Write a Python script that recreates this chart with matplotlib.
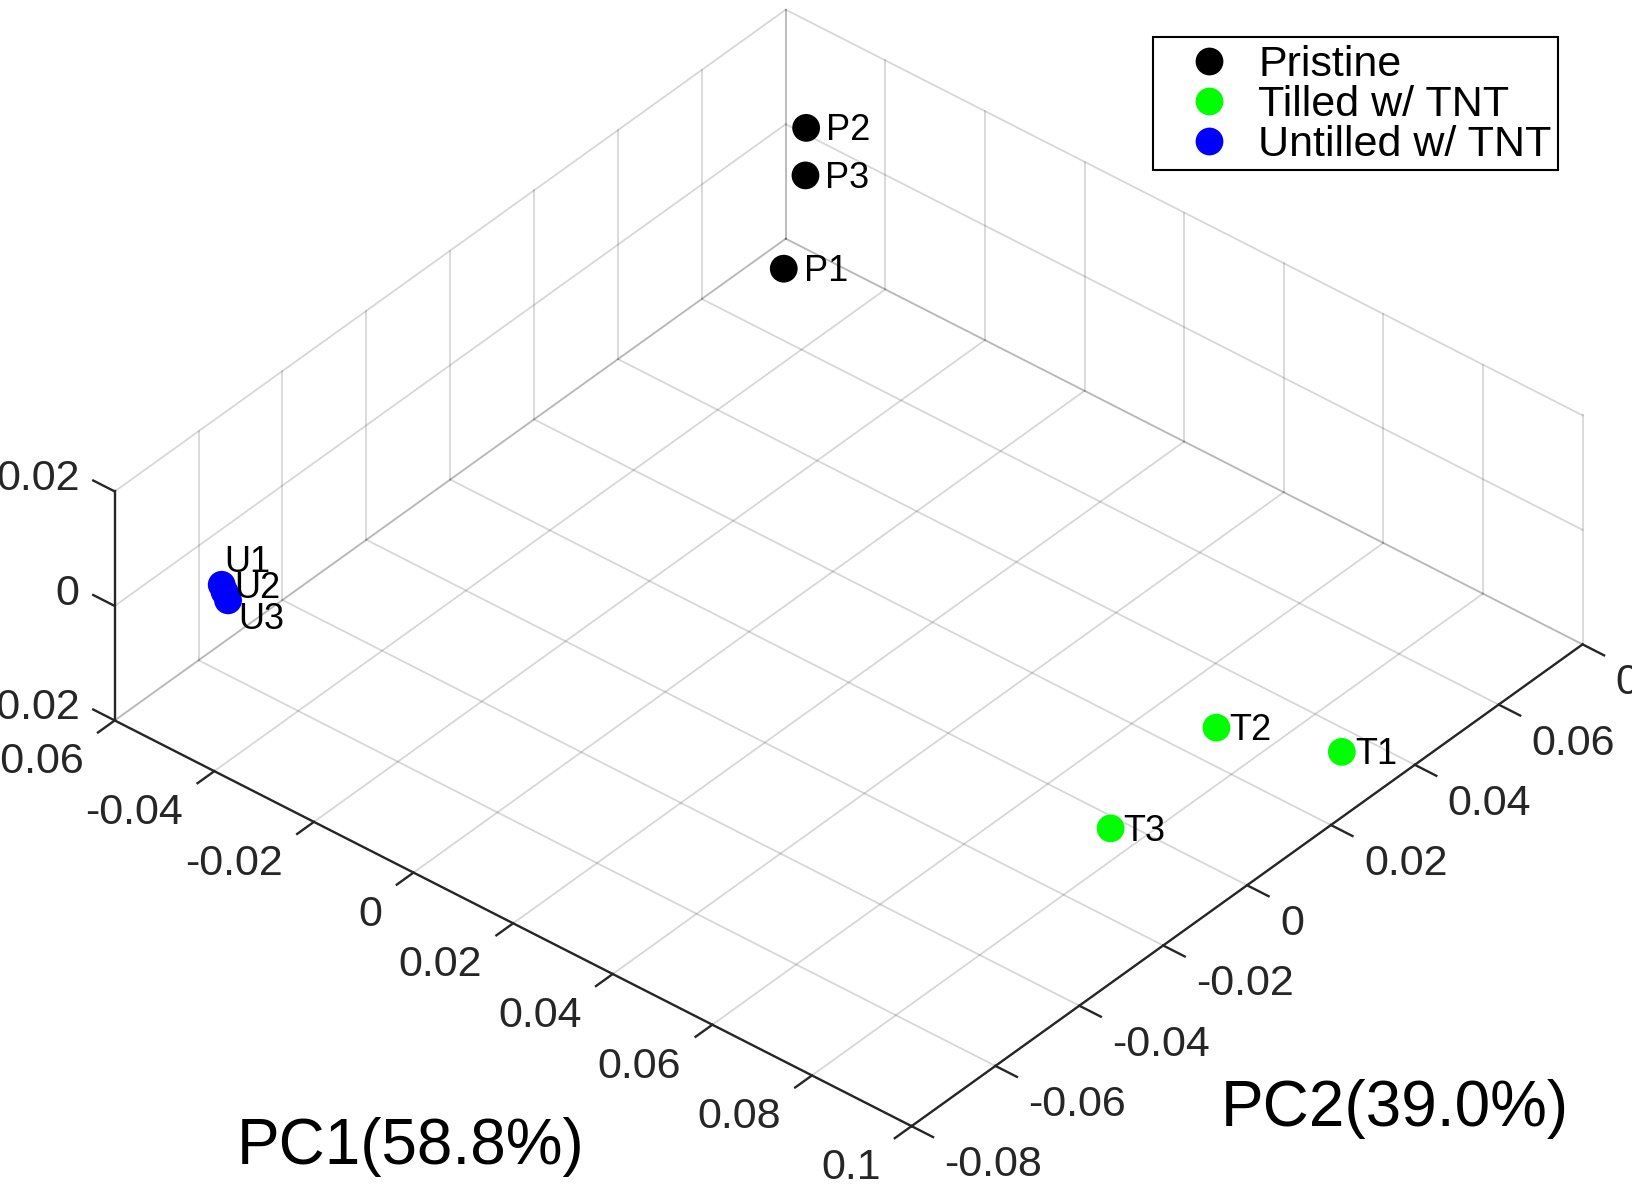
import numpy as np
import matplotlib
matplotlib.use("Agg")
import matplotlib.pyplot as plt
from matplotlib.lines import Line2D
from matplotlib.patches import Rectangle
from mpl_toolkits.mplot3d import proj3d

plt.rcParams['font.family'] = ['Liberation Sans', 'DejaVu Sans']

# PCA scores
sample_names = ['P1', 'P2', 'P3', 'T1', 'T2', 'T3', 'U1', 'U2', 'U3']
pc1 = [-0.0497, -0.0495, -0.0493, 0.0968, 0.0856, 0.0934, -0.0509, -0.0494, -0.0476]
pc2 = [0.0673, 0.0724, 0.0720, 0.0264, 0.0098, -0.0247, -0.0653, -0.0664, -0.0677]
pc3 = [-0.014, 0.008, 0.0, -0.012, -0.004, 0.0, 0.0, 0.0, 0.0]
groups = ['Pristine'] * 3 + ['Tilled w/ TNT'] * 3 + ['Untilled w/ TNT'] * 3
group_names = ['Pristine', 'Tilled w/ TNT', 'Untilled w/ TNT']
group_colors = ['#000000', '#00ff00', '#0000ff']

x_ticks = [-0.06, -0.04, -0.02, 0, 0.02, 0.04, 0.06, 0.08, 0.1]
y_ticks = [-0.08, -0.06, -0.04, -0.02, 0, 0.02, 0.04, 0.06, 0.08]
z_ticks = [-0.02, 0, 0.02]

# label offsets in pixels (dx, dy) from the marker centre
label_offsets = [(20, -3)] * 3 + [(13, -3)] * 3 + [(3, 22), (10, 3), (10, -19)]

W, H = 1632, 1186
fig = plt.figure(figsize=(W / 100, H / 100), dpi=100)
S0 = 1000.0
ax = fig.add_axes([(W - S0) / 2 / W, (H - S0) / 2 / H, S0 / W, S0 / H], projection='3d')
ax.set_proj_type('ortho')
ax.view_init(elev=37.2, azim=-49.9)
ax.set_box_aspect((1, 1, 0.276))
ax.set_axis_off()
ax.computed_zorder = False

xlo, xhi = x_ticks[0], x_ticks[-1]
ylo, yhi = y_ticks[0], y_ticks[-1]
zlo, zhi = z_ticks[0], z_ticks[-1]

grid_kw = dict(color=(0.15, 0.15, 0.15), alpha=0.18, lw=1.3, zorder=1, clip_on=False)
axis_kw = dict(color=(0.15, 0.15, 0.15), lw=1.7, zorder=2, clip_on=False,
               solid_capstyle='projecting')

# back walls and floor grid
for xv in x_ticks:
    ax.plot([xv, xv], [ylo, yhi], [zlo, zlo], **grid_kw)
    ax.plot([xv, xv], [yhi, yhi], [zlo, zhi], **grid_kw)
for yv in y_ticks:
    ax.plot([xlo, xhi], [yv, yv], [zlo, zlo], **grid_kw)
    ax.plot([xlo, xlo], [yv, yv], [zlo, zhi], **grid_kw)
for zv in z_ticks:
    ax.plot([xlo, xlo], [ylo, yhi], [zv, zv], **grid_kw)
    ax.plot([xlo, xhi], [yhi, yhi], [zv, zv], **grid_kw)

# axis lines
ax.plot([xlo, xhi], [ylo, ylo], [zlo, zlo], **axis_kw)
ax.plot([xhi, xhi], [ylo, yhi], [zlo, zlo], **axis_kw)
ax.plot([xlo, xlo], [ylo, ylo], [zlo, zhi], **axis_kw)

# tick marks
tl_x = 0.027 * (xhi - xlo)
tl_y = 0.025 * (yhi - ylo)
for xv in x_ticks:
    ax.plot([xv, xv], [ylo, ylo - tl_y], [zlo, zlo], **axis_kw)
for yv in y_ticks:
    ax.plot([xhi, xhi + tl_x], [yv, yv], [zlo, zlo], **axis_kw)
for zv in z_ticks:
    ax.plot([xlo, xlo - tl_x], [ylo, ylo], [zv, zv], **axis_kw)

# data points
for g, col in zip(group_names, group_colors):
    idx = [i for i, gg in enumerate(groups) if gg == g]
    ax.scatter([pc1[i] for i in idx], [pc2[i] for i in idx], [pc3[i] for i in idx],
               s=400, c=col, edgecolors='none', depthshade=False, zorder=3, clip_on=False)

ax.set_xlim(xlo, xhi)
ax.set_ylim(ylo, yhi)
ax.set_zlim(zlo, zhi)

# fit the axes box so the plot box lands where the original one is
corners = [(xlo, ylo, zlo), (xhi, ylo, zlo), (xhi, yhi, zlo), (xlo, ylo, zhi), (xlo, yhi, zhi)]
targets = np.array([(115, 721), (911.7, 1126), (1583.3, 642.7), (114.3, 491.7), (785, 10.7)])
targets[:, 1] = H - targets[:, 1]
fig.canvas.draw()


def proj2d(x, y, z):
    xs, ys, _ = proj3d.proj_transform(x, y, z, ax.M)
    return float(xs), float(ys)


cur = np.array([ax.transData.transform(proj2d(*c)) for c in corners])
d = cur - np.array([W / 2, H / 2])
A = np.zeros((2 * len(d), 3))
b = np.zeros(2 * len(d))
A[0::2, 0] = d[:, 0]; A[0::2, 1] = 1; b[0::2] = targets[:, 0]
A[1::2, 0] = d[:, 1]; A[1::2, 2] = 1; b[1::2] = targets[:, 1]
k, cx, cy = np.linalg.lstsq(A, b, rcond=None)[0]
S = k * S0
ax.set_position([(cx - S / 2) / W, (cy - S / 2) / H, S / W, S / H])

tick_color = (0.15, 0.15, 0.15)


def label3d(x, y, z, s, dx, dy, **kw):
    ax.annotate(s, xy=proj2d(x, y, z), xycoords='data', xytext=(dx, dy),
                textcoords='offset pixels', annotation_clip=False, **kw)


for xv in x_ticks:
    label3d(xv, ylo, zlo, f'{xv:g}', -31, -53, ha='right', va='baseline',
            fontsize=31, color=tick_color, zorder=5)
for yv in y_ticks:
    label3d(xhi, yv, zlo, f'{yv:g}', 33, -50, ha='left', va='baseline',
            fontsize=31, color=tick_color, zorder=5)
for zv in z_ticks:
    label3d(xlo, ylo, zv, f'{zv:g}', -35, 1, ha='right', va='baseline',
            fontsize=31, color=tick_color, zorder=5)

for i, name in enumerate(sample_names):
    dx, dy = label_offsets[i]
    label3d(pc1[i], pc2[i], pc3[i], name, dx, dy, ha='left', va='center',
            fontsize=26, color='black', zorder=6)

# axis titles
fig.text(411 / W, 1 - 1164 / H, 'PC1(58.8%)', ha='center', va='baseline', fontsize=46)
fig.text(1395 / W, 1 - 1126 / H, 'PC2(39.0%)', ha='center', va='baseline', fontsize=46)

# legend
handles = [Line2D([], [], ls='none', marker='o', ms=20, mfc=c, mec='none') for c in group_colors]
fig.legend(handles, group_names, loc='upper left', bbox_to_anchor=(1170 / W, 1 - 45 / H),
           frameon=False, borderpad=0, borderaxespad=0, handlelength=1.83,
           handletextpad=0.22, labelspacing=0.0, fontsize=31, numpoints=1)
fig.patches.append(Rectangle((1153.3 / W, 1 - 170 / H), 405 / W, 132.7 / H,
                             transform=fig.transFigure, fill=False, ec='black', lw=1.5))

fig.savefig('out.png', dpi=100)
